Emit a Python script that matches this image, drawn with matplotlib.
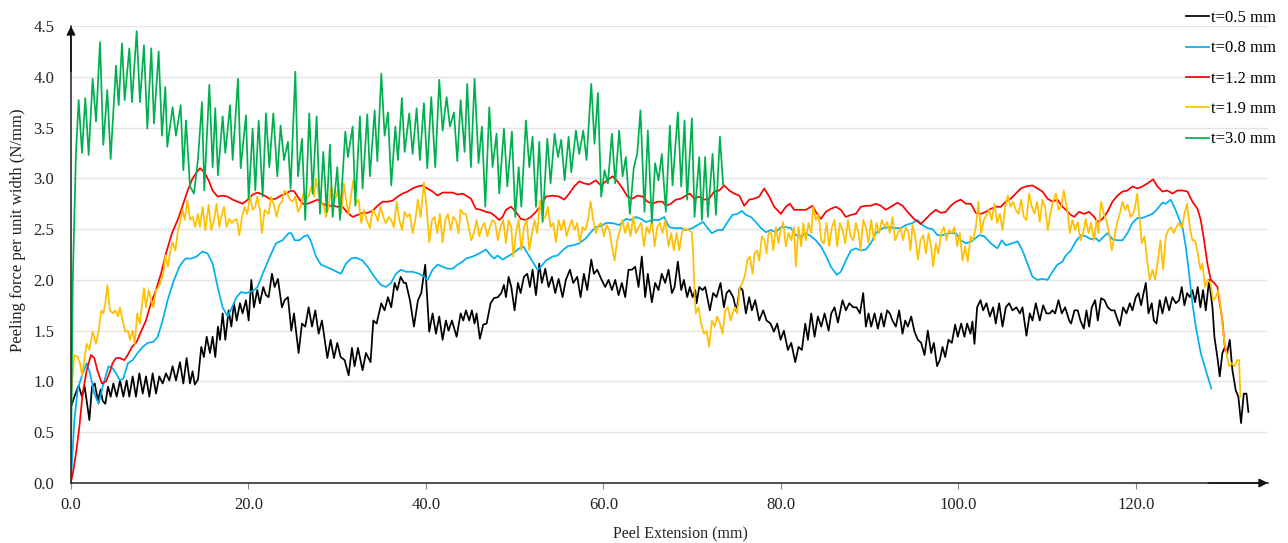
import matplotlib
matplotlib.use("Agg")
import matplotlib.pyplot as plt
import numpy as np

plt.rcParams['font.family'] = ['Liberation Serif', 'DejaVu Serif']

labels = ["t=0.5 mm", "t=0.8 mm", "t=1.2 mm", "t=1.9 mm", "t=3.0 mm"]
colors = ["#000000", "#00B0F0", "#FF0000", "#FFC000", "#00B050"]
x_ticks = [0, 20, 40, 60, 80, 100, 120]
y_ticks = [0.0, 0.5, 1.0, 1.5, 2.0, 2.5, 3.0, 3.5, 4.0, 4.5]

t05 = [(0.00,0.75),(0.38,0.85),(0.86,0.96),(1.24,0.85),(1.54,0.95),(1.77,0.81),(2.07,0.62),(2.37,0.95),(2.67,0.98),(3.04,0.81),(3.34,0.92),(3.57,0.81),(3.87,0.78),(4.17,0.95),(4.47,0.85),(4.77,0.98),(5.15,0.85),(5.52,1.01),(5.90,0.85),(6.27,1.01),(6.57,0.85),(6.95,1.05),(7.32,0.85),(7.70,1.08),(8.08,0.88),(8.45,1.05),(8.83,0.85),(9.20,1.08),(9.58,0.88),(9.95,1.05),(10.33,0.98),(10.70,1.08),(11.08,1.01),(11.45,1.15),(11.83,1.01),(12.28,1.19),(12.66,0.98),(13.03,1.23),(13.41,0.98),(13.70,1.10),(13.95,0.97),(14.31,1.02),(14.68,1.34),(14.98,1.24),(15.29,1.44),(15.66,1.28),(15.96,1.44),(16.26,1.24),(16.56,1.54),(16.79,1.41),(17.09,1.67),(17.39,1.41),(17.77,1.70),(18.07,1.54),(18.37,1.77),(18.67,1.60),(19.04,1.77),(19.34,1.67),(19.72,1.80),(20.02,1.60),(20.32,2.00),(20.62,1.73),(20.99,1.90),(21.29,1.77),(21.67,1.93),(21.97,1.85),
(22.27,1.83),(22.65,2.06),(22.95,1.93),(23.32,2.01),(23.77,1.73),(24.07,1.80),(24.45,1.83),(24.83,1.50),(25.13,1.67),(25.65,1.28),(26.03,1.57),(26.40,1.54),(26.78,1.73),(27.16,1.54),(27.53,1.70),(27.91,1.47),(28.28,1.60),(28.89,1.23),(29.26,1.41),(29.64,1.23),(30.01,1.38),(30.39,1.24),(30.84,1.21),(31.29,1.06),(31.66,1.33),(31.96,1.15),(32.34,1.33),(32.86,1.11),(33.24,1.28),(33.76,1.19),(34.07,1.60),(34.44,1.57),(34.97,1.77),(35.34,1.70),(35.72,1.83),(36.09,1.73),(36.47,1.97),(36.77,1.90),(37.15,2.03),(37.52,1.97),(37.75,1.97),(38.20,1.80),(38.65,1.54),(39.10,1.80),(39.47,1.87),(39.92,2.15),(40.37,1.49),(40.75,1.67),(41.13,1.47),(41.50,1.64),(41.88,1.41),(42.25,1.60),(42.55,1.50),(42.93,1.60),(43.46,1.44),(43.91,1.67),(44.21,1.60),
(44.51,1.70),(44.88,1.60),(45.18,1.70),(45.48,1.57),(45.71,1.67),(46.08,1.42),(46.46,1.56),(46.84,1.57),(47.29,1.77),(47.66,1.82),(48.11,1.83),(48.49,1.87),(48.79,1.95),(49.02,1.83),(49.32,2.03),(49.62,1.93),(49.99,1.70),(50.37,1.97),(50.67,1.87),(51.04,2.03),(51.42,2.06),(51.72,1.93),(52.02,2.10),(52.40,1.85),(52.77,2.16),(53.07,1.97),(53.45,2.11),(53.82,1.93),(54.20,2.03),(54.57,1.87),(54.95,2.01),(55.40,1.83),(55.77,2.00),(56.23,2.10),(56.60,1.97),(57.05,2.03),(57.43,1.83),(57.80,2.06),(58.18,1.90),(58.63,2.20),(58.93,2.06),(59.30,2.10),(59.75,2.01),(60.20,1.93),(60.58,2.00),(60.96,1.90),(61.33,2.00),(61.71,1.85),(62.08,1.97),(62.46,1.83),(62.83,2.10),(63.21,2.10),(63.58,2.13),(63.96,1.93),(64.33,2.23),(64.71,1.83),(65.01,2.06),(65.46,1.78),(65.83,1.97),(66.21,1.90),(66.58,2.06),(66.96,1.97),
(67.34,2.10),(67.72,1.87),(68.02,1.93),(68.39,2.18),(68.77,1.90),(69.07,2.00),(69.44,1.83),(69.74,1.93),(70.05,1.83),(70.35,1.90),(70.50,1.77),(70.80,1.93),(71.17,1.90),(71.47,1.93),(72.00,1.70),(72.37,1.87),(72.75,1.83),(73.20,1.97),(73.58,1.73),(73.88,1.87),(74.18,1.90),(74.63,1.83),(75.00,1.69),(75.38,1.93),(75.68,1.90),(76.06,1.67),(76.43,1.83),(76.73,1.70),(77.11,1.80),(77.56,1.60),(78.01,1.70),(78.39,1.60),(78.84,1.57),(79.21,1.49),(79.59,1.57),(79.97,1.41),(80.34,1.50),(80.79,1.31),(81.17,1.38),(81.62,1.19),(81.99,1.34),(82.37,1.31),(82.75,1.57),(83.05,1.41),(83.42,1.67),(83.80,1.44),(84.17,1.64),(84.55,1.54),(84.93,1.67),(85.38,1.50),(85.68,1.67),(86.05,1.73),(86.43,1.58),(86.95,1.80),(87.33,1.70),(87.71,1.77),(88.16,1.73),(88.53,1.73),(88.91,1.67),(89.28,1.87),
(89.58,1.54),(89.88,1.67),(90.18,1.54),(90.56,1.67),(90.93,1.52),(91.31,1.67),(91.61,1.54),(91.98,1.70),(92.28,1.67),(92.58,1.60),(92.96,1.54),(93.33,1.70),(93.71,1.47),(94.01,1.60),(94.31,1.54),(94.69,1.64),(95.06,1.49),(95.44,1.41),(95.81,1.38),(96.19,1.26),(96.56,1.50),(96.94,1.28),(97.24,1.38),(97.61,1.15),(97.91,1.21),(98.22,1.34),(98.52,1.24),(98.89,1.41),(99.27,1.38),(99.64,1.56),(99.94,1.44),(100.32,1.57),(100.69,1.44),(100.99,1.57),(101.37,1.47),(101.59,1.59),(101.82,1.37),(102.12,1.73),(102.50,1.80),(102.80,1.70),(103.17,1.77),(103.55,1.64),(103.92,1.73),(104.22,1.57),(104.60,1.77),(104.98,1.54),(105.35,1.73),(105.73,1.77),(106.10,1.70),(106.55,1.73),(106.93,1.67),(107.23,1.73),(107.68,1.45),(108.05,1.67),(108.36,1.60),(108.73,1.77),(109.18,1.60),(109.56,1.75),(109.93,1.67),(110.31,1.67),(110.61,1.70),(110.91,1.67),(111.29,1.80),(111.66,1.67),(112.04,1.73),
(112.49,1.60),(112.71,1.57),(113.09,1.70),(113.46,1.70),(113.76,1.60),(114.14,1.52),(114.44,1.70),(114.74,1.54),(115.04,1.73),(115.42,1.80),(115.72,1.60),(116.09,1.82),(116.47,1.80),(116.84,1.73),(117.22,1.70),(117.60,1.70),(117.82,1.64),(118.20,1.55),(118.57,1.73),(118.95,1.67),(119.32,1.77),(119.62,1.70),(120.00,1.83),(120.30,1.87),(120.60,1.75),(120.90,1.88),(121.13,1.97),(121.43,1.67),(121.80,1.77),(122.03,1.60),(122.33,1.57),(122.70,1.80),(123.00,1.67),(123.38,1.83),(123.76,1.70),(124.13,1.83),(124.51,1.77),(124.88,1.80),(125.18,1.93),(125.48,1.75),(125.78,1.87),(126.08,1.83),(126.38,1.90),(126.68,1.78),(126.98,1.93),(127.28,1.73),(127.58,1.90),(127.89,1.70),(128.26,2.00),(128.64,1.73),(128.86,1.44),(129.24,1.21),(129.46,1.05),(129.76,1.28),(130.06,1.34),(130.29,1.28),(130.59,1.41),(130.89,1.11),(131.27,0.91),(131.56,0.85),(131.86,0.59),(132.17,0.88),(132.47,0.88),(132.69,0.70)]

t08 = [(0.00,0.03),(0.38,0.62),(0.75,0.92),(1.31,1.08),(1.77,1.18),(2.14,1.08),(2.63,0.88),(3.12,0.78),(3.57,0.95),(4.24,1.15),(4.69,1.13),(5.07,1.08),(5.52,1.01),(5.90,1.03),(6.42,1.18),(6.95,1.21),(7.51,1.28),(8.08,1.34),(8.64,1.38),(9.28,1.39),(9.77,1.44),(10.33,1.60),(10.89,1.80),(11.53,1.98),(12.21,2.13),(12.88,2.21),(13.52,2.21),(14.16,2.23),(14.83,2.28),(15.40,2.26),(15.96,2.16),(16.53,1.93),(17.09,1.73),(17.65,1.64),(18.14,1.73),(18.67,1.83),(19.16,1.88),(19.72,1.87),(20.47,1.89),(21.03,1.93),(21.60,2.06),
(22.42,2.23),(23.10,2.36),(23.85,2.39),(24.53,2.46),(24.83,2.46),(25.20,2.39),(25.73,2.39),(26.29,2.43),(26.67,2.44),(27.04,2.38),(27.61,2.23),(28.17,2.15),(28.73,2.13),(29.48,2.10),(30.42,2.06),(30.99,2.16),(31.55,2.21),(32.11,2.22),(32.86,2.19),(33.43,2.13),(34.18,2.03),(34.93,1.95),(35.49,1.93),(36.06,1.97),(36.62,2.06),(37.18,2.10),(37.75,2.08),(38.50,2.08),(39.25,2.06),(39.81,2.03),(40.19,2.00),(40.75,2.10),(41.31,2.15),(41.88,2.13),(42.44,2.11),(43.00,2.11),(43.57,2.15),(44.13,2.18),
(44.51,2.21),(45.26,2.23),(46.01,2.26),(46.76,2.30),(47.32,2.24),(47.70,2.21),(48.07,2.24),(48.64,2.20),(49.20,2.23),(49.77,2.26),(50.52,2.31),(50.97,2.33),(51.46,2.26),(52.02,2.18),(52.58,2.10),(52.96,2.13),(53.52,2.19),(54.27,2.23),(54.84,2.24),(55.40,2.29),(55.96,2.33),(56.53,2.34),(57.28,2.36),(58.03,2.41),(58.59,2.47),(59.15,2.52),(59.72,2.53),(60.28,2.56),(61.03,2.56),(61.78,2.54),(62.53,2.60),(63.10,2.59),(63.66,2.62),(64.23,2.60),(64.79,2.57),(65.54,2.59),(66.29,2.59),(66.85,2.62),
(67.41,2.52),(67.98,2.51),(68.73,2.51),(69.30,2.49),(70.05,2.51),(70.80,2.55),(71.25,2.57),(71.74,2.51),(72.23,2.46),(72.86,2.49),(73.43,2.49),(73.99,2.57),(74.55,2.64),(75.12,2.65),(75.61,2.68),(76.06,2.64),(76.62,2.62),(77.18,2.57),(77.75,2.51),(78.31,2.47),(78.87,2.49),(79.44,2.47),(80.00,2.52),(80.56,2.52),(81.13,2.51),(81.69,2.44),(82.25,2.43),(82.82,2.46),(83.38,2.43),(83.94,2.39),(84.51,2.33),(85.07,2.24),(85.63,2.13),(86.31,2.05),(86.76,2.08),(87.32,2.19),(87.89,2.29),(88.45,2.31),(89.01,2.29),
(89.58,2.30),(90.14,2.36),(90.70,2.46),(91.46,2.51),(92.21,2.52),(92.96,2.51),(93.52,2.51),(94.08,2.54),(94.84,2.56),(95.40,2.59),(95.96,2.54),(96.53,2.51),(97.09,2.50),(97.65,2.44),(98.22,2.44),(98.97,2.46),(99.72,2.46),(100.28,2.39),(100.85,2.36),(101.52,2.38),(102.35,2.44),(102.91,2.43),(103.66,2.36),(104.41,2.31),(104.90,2.39),(105.35,2.34),(106.10,2.36),(106.67,2.38),(107.23,2.29),(107.79,2.16),(108.36,2.03),(108.92,2.00),(109.48,2.01),(110.05,2.00),(110.61,2.08),(111.17,2.15),(111.74,2.18),
(112.11,2.24),(112.68,2.29),(113.24,2.38),(113.80,2.44),(114.37,2.43),(114.93,2.40),(115.49,2.41),(115.87,2.38),(116.43,2.43),(116.81,2.46),(117.37,2.40),(117.93,2.39),(118.50,2.39),(119.06,2.46),(119.62,2.56),(120.19,2.61),(120.75,2.61),(121.31,2.63),(121.88,2.65),(122.44,2.70),(123.00,2.76),(123.38,2.75),(123.94,2.79),(124.43,2.70),(124.88,2.60),(125.26,2.52),(125.63,2.33),(126.01,2.06),(126.38,1.77),(126.76,1.54),(127.32,1.28),(127.89,1.11),(128.52,0.93)]

t12 = [(0.00,0.01),(0.26,0.12),(0.56,0.29),(0.94,0.55),(1.31,0.88),(1.77,1.11),(2.25,1.26),(2.63,1.23),(3.00,1.10),(3.49,0.98),(3.94,1.00),(4.32,1.08),(4.69,1.18),(5.07,1.23),(5.52,1.23),(6.01,1.21),(6.39,1.26),(6.87,1.34),(7.40,1.39),(7.89,1.49),(8.45,1.60),(9.01,1.77),(9.58,1.90),(10.14,2.06),(10.70,2.26),(11.38,2.46),(12.02,2.59),(12.58,2.73),(13.15,2.88),(13.71,3.00),(14.16,3.06),(14.54,3.10),(15.02,3.06),(15.51,2.98),(15.96,2.88),(16.53,2.82),(17.09,2.83),(17.65,2.82),(18.22,2.79),(18.78,2.77),(19.34,2.75),(19.91,2.79),(20.47,2.84),(21.03,2.86),(21.60,2.84),
(22.00,2.82),(22.54,2.79),(23.10,2.80),(23.66,2.83),(24.23,2.85),(24.79,2.88),(25.17,2.87),(25.54,2.82),(26.10,2.75),(26.67,2.75),(27.23,2.77),(27.80,2.79),(28.36,2.75),(28.92,2.73),(29.48,2.73),(30.05,2.72),(30.61,2.72),(31.17,2.66),(31.74,2.62),(32.30,2.64),(32.86,2.66),(33.43,2.66),(33.99,2.68),(34.55,2.73),(35.12,2.77),(35.68,2.77),(36.24,2.78),(36.81,2.82),(37.37,2.85),(37.93,2.87),(38.50,2.90),(39.06,2.92),(39.62,2.93),(40.19,2.90),(40.75,2.87),(41.31,2.83),(41.88,2.86),(42.44,2.86),(43.00,2.86),(43.57,2.84),(44.13,2.85),
(45.07,2.80),(45.63,2.70),(46.20,2.69),(46.76,2.67),(47.32,2.66),(47.89,2.62),(48.26,2.59),(48.64,2.62),(49.02,2.69),(49.58,2.72),(50.14,2.67),(50.70,2.60),(51.27,2.59),(51.83,2.62),(52.40,2.67),(52.96,2.73),(53.52,2.82),(54.27,2.83),(55.02,2.82),(55.59,2.79),(56.15,2.85),(56.71,2.92),(57.28,2.97),(57.84,2.95),(58.40,2.94),(59.15,2.98),(59.72,2.93),(60.28,2.97),(61.03,3.02),(61.60,2.97),(62.16,2.90),(62.72,2.82),(63.29,2.80),(63.85,2.83),(64.41,2.82),(64.98,2.77),(65.54,2.75),(66.10,2.77),(66.67,2.77),
(67.04,2.73),(67.60,2.75),(68.17,2.79),(68.73,2.80),(69.30,2.83),(69.74,2.85),(70.23,2.80),(70.80,2.82),(71.36,2.79),(71.92,2.80),(72.49,2.87),(73.05,2.88),(73.61,2.93),(74.18,2.88),(74.74,2.85),(75.31,2.83),(75.87,2.73),(76.43,2.79),(77.00,2.80),(77.56,2.82),(78.12,2.90),(78.69,2.82),(79.25,2.72),(80.00,2.65),(80.56,2.72),(81.01,2.75),(81.50,2.69),(82.07,2.69),(82.82,2.69),(83.57,2.73),(83.94,2.67),(84.51,2.60),(85.07,2.67),(85.63,2.70),(86.20,2.72),(86.76,2.69),(87.32,2.62),(87.89,2.64),(88.45,2.65),(89.01,2.72),
(89.58,2.73),(90.14,2.73),(90.70,2.75),(91.27,2.73),(91.83,2.69),(92.39,2.72),(93.14,2.76),(93.71,2.73),(94.27,2.67),(95.02,2.60),(95.77,2.55),(96.34,2.60),(96.90,2.65),(97.46,2.69),(98.03,2.66),(98.59,2.67),(99.15,2.73),(99.72,2.77),(100.28,2.79),(100.85,2.75),(101.41,2.75),(101.97,2.66),(102.54,2.65),(103.10,2.67),(103.66,2.70),(104.22,2.72),(104.79,2.72),(105.35,2.77),(105.92,2.80),(106.48,2.85),(107.04,2.90),(107.61,2.92),(108.36,2.93),(108.92,2.90),(109.48,2.87),(110.05,2.80),(110.61,2.77),(111.17,2.79),(111.74,2.72),
(112.11,2.69),(112.68,2.64),(113.05,2.62),(113.62,2.67),(114.18,2.65),(114.74,2.67),(115.31,2.62),(115.68,2.57),(116.24,2.60),(116.81,2.67),(117.37,2.77),(117.93,2.83),(118.50,2.87),(119.06,2.88),(119.62,2.92),(120.19,2.90),(120.75,2.92),(121.31,2.95),(121.95,2.99),(122.44,2.92),(123.00,2.87),(123.57,2.88),(124.13,2.85),(124.69,2.88),(125.26,2.88),(125.82,2.87),(126.38,2.77),(126.95,2.70),(127.32,2.59),(127.70,2.39),(128.07,2.16),(128.45,2.00),(128.83,1.97),(129.20,1.93),(129.46,1.77),(129.76,1.60),(130.06,1.31),(130.33,1.28)]

t19 = [(0.00,0.85),(0.38,1.26),(0.75,1.24),(1.01,1.18),(1.24,1.06),(1.54,1.24),(1.77,1.37),(2.07,1.31),(2.44,1.49),(2.82,1.37),(3.12,1.50),(3.42,1.70),(3.64,1.67),(3.87,1.77),(4.09,1.95),(4.39,1.70),(4.69,1.67),(4.99,1.70),(5.30,1.64),(5.52,1.73),(5.82,1.60),(6.12,1.49),(6.42,1.50),(6.65,1.41),(6.95,1.50),(7.17,1.37),(7.47,1.67),(7.77,1.57),(8.22,1.92),(8.45,1.73),(8.75,1.90),(9.05,1.80),(9.28,1.73),(9.58,1.90),(9.88,1.93),(10.18,2.00),(10.40,2.06),(10.63,2.24),(10.93,2.13),(11.15,2.26),(11.45,2.37),(11.76,2.29),(12.06,2.49),(12.28,2.56),(12.58,2.69),(12.81,2.59),(13.11,2.78),(13.41,2.59),(13.71,2.62),(14.01,2.52),(14.31,2.65),(14.53,2.52),(14.83,2.72),(15.14,2.49),(15.51,2.74),(15.81,2.49),(16.11,2.59),(16.41,2.75),(16.71,2.52),(16.94,2.62),(17.24,2.72),(17.54,2.52),(17.84,2.60),(18.14,2.56),(18.44,2.59),(18.67,2.60),(18.97,2.44),(19.27,2.62),(19.57,2.72),(19.87,2.65),(20.17,2.82),(20.47,2.69),(20.77,2.72),(20.99,2.82),(21.29,2.69),(21.52,2.46),(21.82,2.69),
(22.27,2.65),(22.57,2.82),(22.87,2.74),(23.17,2.62),(23.47,2.74),(23.77,2.77),(24.07,2.88),(24.37,2.85),(24.68,2.79),(24.98,2.77),(25.28,2.82),(25.58,2.67),(25.88,2.72),(26.18,2.85),(26.48,2.79),(26.78,2.82),(27.08,2.92),(27.38,2.82),(27.61,3.00),(27.91,2.85),(28.21,2.77),(28.51,2.72),(28.73,2.62),(29.03,2.72),(29.34,2.92),(29.64,2.79),(29.94,2.82),(30.16,2.95),(30.46,2.65),(30.76,2.95),(30.99,2.79),(31.29,2.65),(31.59,2.85),(31.81,2.98),(32.11,2.75),(32.41,2.79),(32.71,2.56),(33.01,2.69),(33.32,2.59),(33.69,2.51),(33.99,2.69),(34.29,2.65),(34.59,2.58),(34.89,2.72),(35.19,2.62),(35.49,2.56),(35.79,2.62),(36.09,2.59),(36.39,2.52),(36.70,2.77),(37.00,2.59),(37.30,2.49),(37.60,2.67),(37.90,2.62),(38.20,2.65),(38.50,2.46),(38.80,2.59),(39.10,2.79),(39.40,2.62),(39.77,2.96),(40.07,2.72),(40.37,2.37),(40.68,2.59),(40.98,2.62),(41.28,2.46),(41.58,2.65),(41.88,2.37),(42.18,2.59),(42.48,2.65),(42.78,2.49),(43.08,2.62),(43.38,2.59),(43.68,2.46),(43.91,2.69),(44.21,2.65),
(44.51,2.65),(44.81,2.52),(45.11,2.39),(45.41,2.46),(45.71,2.59),(46.01,2.43),(46.31,2.52),(46.61,2.56),(46.91,2.43),(47.21,2.52),(47.51,2.59),(47.81,2.56),(48.11,2.39),(48.41,2.52),(48.71,2.59),(49.02,2.36),(49.32,2.59),(49.62,2.52),(49.84,2.23),(50.14,2.46),(50.45,2.59),(50.75,2.29),(51.05,2.52),(51.35,2.59),(51.65,2.29),(51.95,2.46),(52.25,2.59),(52.55,2.46),(52.85,2.78),(53.15,2.59),(53.45,2.62),(53.75,2.72),(54.05,2.52),(54.35,2.56),(54.65,2.37),(54.95,2.59),(55.25,2.49),(55.55,2.59),(55.85,2.43),(56.15,2.52),(56.45,2.59),(56.75,2.49),(57.05,2.56),(57.35,2.37),(57.65,2.52),(57.96,2.49),(58.26,2.59),(58.56,2.77),(58.86,2.59),(59.16,2.46),(59.46,2.54),(59.76,2.56),(60.06,2.43),(60.36,2.54),(60.66,2.49),(60.96,2.33),(61.26,2.19),(61.56,2.39),(61.86,2.49),(62.16,2.59),(62.46,2.46),(62.76,2.56),(63.06,2.43),(63.36,2.62),(63.67,2.46),(63.97,2.52),(64.27,2.56),(64.57,2.33),(64.87,2.52),(65.17,2.46),(65.47,2.59),(65.77,2.33),(66.07,2.52),(66.37,2.56),(66.67,2.46),(66.97,2.59),
(67.34,2.33),(67.64,2.46),(67.94,2.29),(68.24,2.46),(68.54,2.29),(68.84,2.46),(69.14,2.51),(69.44,2.49),(69.74,2.49),(69.97,2.46),(70.12,2.26),(70.27,1.87),(70.42,1.67),(70.72,1.73),(71.02,1.57),(71.32,1.47),(71.62,1.50),(71.92,1.34),(72.22,1.60),(72.52,1.54),(72.82,1.64),(73.13,1.57),(73.43,1.47),(73.73,1.70),(74.03,1.73),(74.33,1.60),(74.55,1.67),(74.85,1.73),(75.08,1.67),(75.38,1.93),(75.68,1.97),(75.98,2.06),(76.21,2.19),(76.51,2.23),(76.81,2.06),(77.03,2.26),(77.33,2.29),(77.56,2.19),(77.86,2.43),(78.16,2.39),(78.39,2.26),(78.61,2.46),(78.91,2.46),(79.14,2.29),(79.44,2.52),(79.74,2.36),(79.97,2.49),(80.27,2.57),(80.56,2.33),(80.86,2.46),(81.17,2.39),(81.47,2.52),(81.69,2.13),(81.99,2.52),(82.29,2.33),(82.52,2.56),(82.82,2.39),(83.12,2.56),(83.42,2.46),(83.64,2.72),(83.94,2.59),(84.24,2.65),(84.55,2.39),(84.85,2.36),(85.15,2.56),(85.45,2.33),(85.75,2.52),(86.05,2.59),(86.35,2.33),(86.65,2.56),(86.95,2.49),(87.26,2.36),(87.56,2.59),(87.86,2.43),(88.16,2.39),(88.46,2.56),(88.76,2.46),(88.98,2.29),(89.28,2.59),
(89.58,2.52),(89.88,2.36),(90.18,2.59),(90.48,2.39),(90.78,2.56),(91.08,2.46),(91.38,2.59),(91.68,2.52),(91.98,2.57),(92.28,2.46),(92.58,2.62),(92.88,2.39),(93.18,2.46),(93.48,2.51),(93.78,2.39),(94.08,2.52),(94.39,2.46),(94.61,2.29),(94.84,2.54),(95.14,2.43),(95.44,2.20),(95.74,2.39),(96.04,2.44),(96.34,2.26),(96.64,2.46),(96.94,2.33),(97.16,2.13),(97.46,2.36),(97.76,2.26),(98.07,2.46),(98.37,2.52),(98.67,2.39),(98.97,2.49),(99.27,2.46),(99.57,2.52),(99.87,2.33),(100.17,2.46),(100.47,2.19),(100.77,2.33),(101.07,2.18),(101.37,2.43),(101.67,2.39),(101.97,2.52),(102.27,2.77),(102.57,2.46),(102.87,2.59),(103.17,2.64),(103.47,2.69),(103.77,2.59),(104.07,2.75),(104.38,2.56),(104.68,2.65),(104.98,2.49),(105.28,2.72),(105.58,2.83),(105.88,2.72),(106.18,2.77),(106.48,2.69),(106.78,2.65),(107.08,2.79),(107.38,2.62),(107.68,2.59),(107.98,2.85),(108.28,2.72),(108.58,2.65),(108.88,2.77),(109.18,2.57),(109.48,2.79),(109.78,2.72),(110.08,2.49),(110.38,2.65),(110.68,2.77),(110.99,2.85),(111.29,2.69),(111.59,2.72),(111.89,2.88),
(112.34,2.65),(112.56,2.46),(112.86,2.59),(113.16,2.49),(113.46,2.57),(113.76,2.39),(114.06,2.46),(114.37,2.60),(114.67,2.46),(114.97,2.56),(115.27,2.39),(115.57,2.59),(115.79,2.46),(116.09,2.77),(116.39,2.65),(116.69,2.59),(116.99,2.46),(117.30,2.29),(117.60,2.43),(117.90,2.56),(118.20,2.65),(118.50,2.77),(118.80,2.69),(119.10,2.74),(119.40,2.62),(119.70,2.65),(119.92,2.72),(120.15,2.85),(120.38,2.65),(120.68,2.36),(120.98,2.43),(121.28,2.19),(121.58,2.00),(121.88,2.10),(122.18,2.00),(122.48,2.19),(122.78,2.39),(123.08,2.10),(123.38,2.43),(123.68,2.49),(123.98,2.52),(124.28,2.46),(124.58,2.52),(124.88,2.56),(125.18,2.51),(125.48,2.65),(125.78,2.75),(126.08,2.52),(126.38,2.39),(126.68,2.39),(126.98,2.26),(127.29,2.10),(127.51,2.16),(127.81,1.93),(128.11,2.00),(128.41,1.97),(128.71,1.80),(129.01,1.83),(129.31,1.90),(129.61,1.70),(129.91,1.44),(130.21,1.28),(130.51,1.15),(130.81,1.18),(131.11,1.15),(131.41,1.21),(131.64,1.21),(131.79,0.85)]

t30 = [(0.00,0.20),(0.20,2.00),(0.56,3.25),(0.86,3.77),(1.24,3.25),(1.61,3.79),(1.99,3.23),(2.44,3.98),(2.82,3.56),(3.27,4.34),(3.64,3.33),(4.09,3.87),(4.47,3.19),(5.07,4.11),(5.37,3.72),(5.75,4.33),(6.05,3.77),(6.57,4.28),(6.87,3.75),(7.40,4.45),(7.77,3.75),(8.22,4.31),(8.60,3.49),(9.05,4.28),(9.35,3.54),(9.88,4.25),(10.25,3.42),(10.63,3.90),(10.85,3.31),(11.45,3.70),(11.83,3.42),(12.36,3.72),(12.66,3.08),(12.96,3.57),(13.41,2.92),(13.86,2.85),(14.30,3.18),(14.76,3.75),(15.02,2.88),(15.59,3.92),(15.96,3.11),(16.26,3.69),(16.56,3.03),(17.09,3.61),(17.39,3.25),(17.92,3.72),(18.22,3.18),(18.82,3.98),(19.12,3.10),(19.72,3.62),(20.02,2.79),(20.47,3.49),(20.77,2.88),(21.15,3.57),(21.60,2.82),(21.97,3.64),
(22.35,3.11),(22.80,3.64),(23.25,3.02),(23.62,3.52),(24.00,3.18),(24.45,3.36),(24.75,2.90),(25.28,4.05),(25.58,3.02),(26.03,3.39),(26.40,2.59),(26.85,3.64),(27.23,2.85),(27.68,3.61),(28.06,2.65),(28.43,3.26),(28.81,2.67),(29.18,3.33),(29.48,2.62),(30.01,3.11),(30.31,2.59),(30.91,3.46),(31.21,3.21),(31.74,3.51),(32.04,2.73),(32.56,3.61),(32.86,2.90),(33.39,3.63),(33.69,3.02),(34.22,3.67),(34.52,3.17),(34.97,4.03),(35.34,3.42),(35.72,3.65),(36.09,2.93),(36.55,3.51),(36.85,3.18),(37.29,3.79),(37.60,3.26),(38.12,3.64),(38.50,3.24),(38.95,3.69),(39.32,3.18),(39.77,3.74),(40.15,3.10),(40.60,3.80),(41.05,3.11),(41.50,3.97),(41.88,3.47),(42.33,3.80),(42.70,3.51),(43.16,3.65),(43.53,3.17),(43.91,3.77),(44.36,3.26),
(44.65,3.93),(45.07,3.11),(45.48,3.98),(45.93,3.15),(46.31,3.51),(46.69,2.72),(47.14,3.70),(47.51,3.11),(47.96,3.44),(48.26,2.85),(48.79,3.49),(49.17,2.92),(49.69,3.46),(50.07,2.62),(50.45,3.11),(50.75,2.72),(51.27,3.57),(51.65,3.11),(52.02,3.41),(52.40,2.72),(52.77,3.36),(53.15,2.57),(53.68,3.39),(54.05,2.95),(54.50,3.44),(54.88,3.21),(55.25,3.38),(55.63,2.98),(56.08,3.41),(56.38,3.06),(56.90,3.47),(57.28,3.24),(57.73,3.47),(58.10,3.18),(58.63,3.93),(59.00,3.34),(59.38,3.84),(59.75,2.82),(60.13,3.08),(60.51,2.95),(60.96,3.44),(61.33,2.95),(61.78,3.47),(62.16,3.02),(62.53,3.21),(62.98,2.65),(63.43,3.11),(63.81,3.24),(64.18,3.67),(64.63,2.67),(65.01,3.47),(65.46,2.56),(65.83,3.15),(66.21,2.98),(66.58,3.24),(67.04,2.67),
(67.49,3.52),(67.79,2.93),(68.39,3.65),(68.77,2.92),(69.14,3.57),(69.44,2.79),(69.97,3.59),(70.27,2.62),(70.80,3.21),(71.10,2.59),(71.47,3.21),(71.77,2.62),(72.30,3.24),(72.68,2.64),(73.13,3.41),(73.50,2.93)]

series = [t05, t08, t12, t19, t30]

W, H = 1288, 543
fig = plt.figure(figsize=(W / 100, H / 100), dpi=100)
L, R, T, B = 71, 1268, 26, 483
ax = fig.add_axes([L / W, 1 - B / H, (R - L) / W, (B - T) / H])

for data, lab, col in zip(series, labels, colors):
    xs = [p[0] for p in data]
    ys = [p[1] for p in data]
    ax.plot(xs, ys, color=col, lw=1.25, label=lab, solid_joinstyle='round')

ax.set_xlim(0, 134.9)
ax.set_ylim(0, 4.5)
ax.set_yticks(y_ticks)
ax.set_yticklabels([f"{v:.1f}" for v in y_ticks])
ax.set_xticks(x_ticks)
ax.set_xticklabels([f"{v:.1f}" for v in x_ticks])
ax.yaxis.grid(True, color="#e4e4e4", lw=1.0)
ax.set_axisbelow(True)
for s in ["top", "right"]:
    ax.spines[s].set_visible(False)
for s in ["left", "bottom"]:
    ax.spines[s].set_color("#222222")
    ax.spines[s].set_linewidth(1.1)
ax.tick_params(axis="y", length=0, pad=12, labelsize=12, colors="#222222")
ax.tick_params(axis="x", length=4, width=0.8, color="#888888", pad=6, labelsize=12, labelcolor="#222222")

# axis arrows
ax.annotate("", xy=(0, 1.0), xytext=(0, 0.9), xycoords="axes fraction",
            arrowprops=dict(arrowstyle="-|>", color="#111111", lw=1.1, mutation_scale=13, shrinkA=0, shrinkB=0))
ax.annotate("", xy=(1.0, 0), xytext=(0.95, 0), xycoords="axes fraction",
            arrowprops=dict(arrowstyle="-|>", color="#111111", lw=1.1, mutation_scale=13, shrinkA=0, shrinkB=0))

fig.text(18 / W, 1 - 230 / H, "Peeling force per unit width (N/mm)", rotation=90,
         ha="center", va="center", fontsize=12, color="#222222")
fig.text(680 / W, 1 - 533 / H, "Peel Extension (mm)", ha="center", va="center",
         fontsize=11.5, color="#222222")

leg = fig.legend(loc="upper right", bbox_to_anchor=(1276 / W, 1 - 10 / H), frameon=False,
                 fontsize=12, handlelength=1.35, handletextpad=0.15, labelspacing=0.86,
                 borderpad=0, borderaxespad=0)

fig.savefig("out.png", dpi=100)
